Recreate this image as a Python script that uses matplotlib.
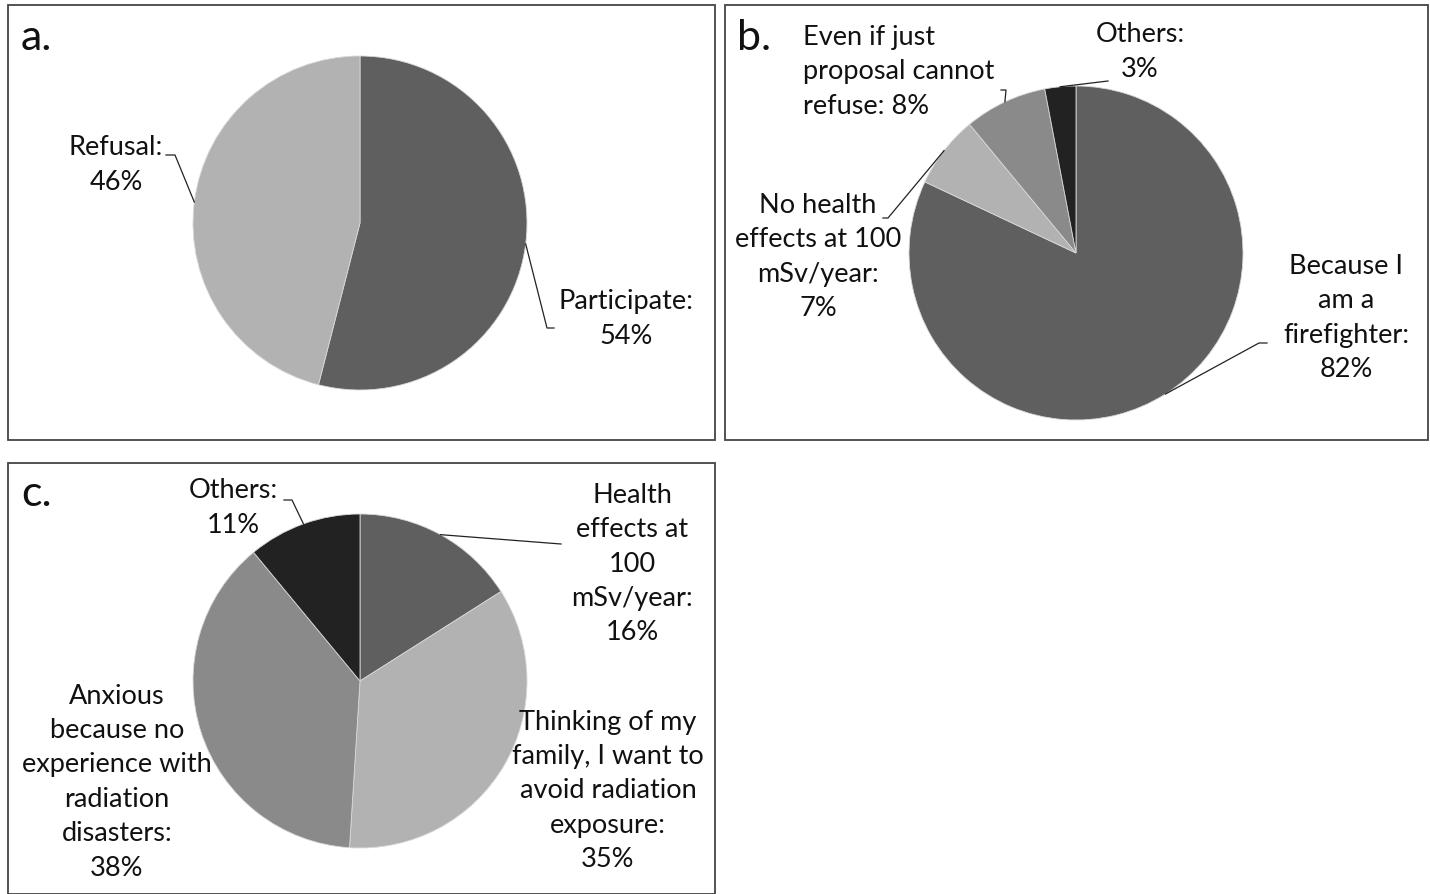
import matplotlib

matplotlib.use("Agg")
import matplotlib.pyplot as plt
from matplotlib.patches import Rectangle
import numpy as np

W, H = 1430, 894

# ── data ──
a_labels = ["Participate:\n54%", "Refusal:\n46%"]
a_values = [54, 46]

b_labels = ["Because I\nam a\nfirefighter:\n82%", "No health\neffects at 100\nmSv/year:\n7%",
            "Even if just\nproposal cannot\nrefuse: 8%", "Others:\n3%"]
b_values = [82, 7, 8, 3]

c_labels = ["Health\neffects at\n100\nmSv/year:\n16%",
            "Thinking of my\nfamily, I want to\navoid radiation\nexposure:\n35%",
            "Anxious\nbecause no\nexperience with\nradiation\ndisasters:\n38%", "Others:\n11%"]
c_values = [16, 35, 38, 11]

DARK, LIGHT, MID, BLACK = "#5f5f5f", "#b2b2b2", "#8a8a8a", "#222222"
a_colors = [DARK, LIGHT]
b_colors = [DARK, LIGHT, MID, BLACK]
c_colors = [DARK, LIGHT, MID, BLACK]

plt.rcParams["font.family"] = ["Lato", "DejaVu Sans"]
FS = 19.5

fig = plt.figure(figsize=(W / 100, H / 100), dpi=100)
ax = fig.add_axes([0, 0, 1, 1])


def Y(y):
    # pixel row from top -> data y
    return H - y


def mid_point(values, i, cx, cy, r):
    total = float(sum(values))
    before = sum(values[:i]) / total
    ang = np.deg2rad(90 - 360 * (before + values[i] / total / 2))
    return cx + r * np.cos(ang), Y(cy) + r * np.sin(ang)


def draw_pie(values, colors, cx, cy, r):
    ax.pie(values, colors=colors, startangle=90, counterclock=False,
           center=(cx, Y(cy)), radius=r,
           wedgeprops=dict(edgecolor="#d8d8d8", linewidth=0.6))


def label(text, x, y, ha="center"):
    ax.text(x, Y(y), text, ha=ha, va="center", fontsize=FS,
            linespacing=1.47, color="#111111")


def leader(values, i, cx, cy, r, pts):
    x0, y0 = mid_point(values, i, cx, cy, r)
    xs = [x0] + [p[0] for p in pts]
    ys = [y0] + [Y(p[1]) for p in pts]
    ax.plot(xs, ys, color="#222222", lw=0.9)


R = 167

# panel a
draw_pie(a_values, a_colors, 360, 223, R)
label(a_labels[0], 626, 319)
label(a_labels[1], 116, 165)
leader(a_values, 0, 360, 223, R, [(547, 328), (554, 328)])
leader(a_values, 1, 360, 223, R, [(175, 155), (166, 155)])

# panel b
draw_pie(b_values, b_colors, 1076, 253, R)
label(b_labels[0], 1346, 318)
label(b_labels[1], 818, 257)
label(b_labels[2], 803, 72, ha="left")
label(b_labels[3], 1140, 52)
leader(b_values, 0, 1076, 253, R, [(1259, 343), (1267, 343)])
leader(b_values, 1, 1076, 253, R, [(888, 218), (883, 218)])
leader(b_values, 2, 1076, 253, R, [(1006, 90), (1001, 90)])
leader(b_values, 3, 1076, 253, R, [(1108, 81)])

# panel c
draw_pie(c_values, c_colors, 360, 681, R)
label(c_labels[0], 632, 564)
label(c_labels[1], 608, 791)
label(c_labels[2], 117, 782)
label(c_labels[3], 233, 508)
leader(c_values, 0, 360, 681, R, [(561, 544)])
leader(c_values, 3, 360, 681, R, [(292, 500), (284, 500)])

# panel letters and frames
for letter, x, y in [("a.", 21, 38), ("b.", 737, 38), ("c.", 21, 494)]:
    ax.text(x, Y(y), letter, fontsize=31, ha="left", va="center", color="#111111")

for x0, y0, x1, y1 in [(8, 5, 715, 440), (725, 5, 1428, 440), (8, 463, 715, 894)]:
    ax.add_patch(Rectangle((x0, Y(y1)), x1 - x0, y1 - y0, fill=False,
                           edgecolor="#444444", lw=1.3))

ax.set_xlim(0, W)
ax.set_ylim(0, H)
ax.set_aspect("auto")
ax.axis("off")

fig.savefig("out.png", dpi=100, facecolor="white")
